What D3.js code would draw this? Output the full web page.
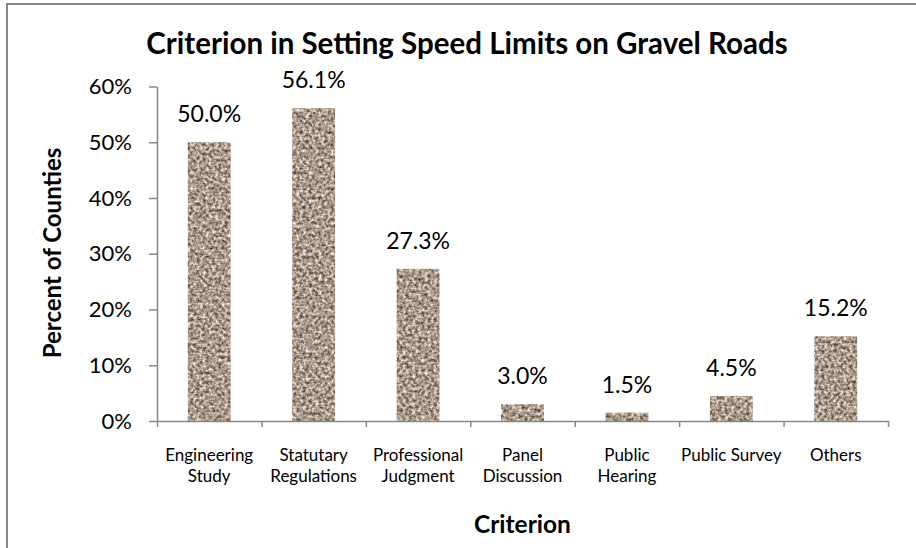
<!DOCTYPE html>
<html>
<head>
<meta charset="utf-8">
<title>Criterion in Setting Speed Limits on Gravel Roads</title>
<script src="https://cdn.jsdelivr.net/npm/d3@7"></script>
<style>
  body { margin: 0; background: #fff; }
  svg { display: block; font-family: Lato, "Open Sans", sans-serif; }
</style>
</head>
<body>
<div id="chart"></div>
<script>
// data
var categories = ["Engineering\nStudy", "Statutary\nRegulations", "Professional\nJudgment",
                  "Panel\nDiscussion", "Public\nHearing", "Public Survey", "Others"];
var percents = [50.0, 56.1, 27.3, 3.0, 1.5, 4.5, 15.2];
var yTicks = [0, 10, 20, 30, 40, 50, 60];

var width = 916, height = 548;
var plot = {left: 157, right: 888, top: 86.5, bottom: 421};

var svg = d3.select("#chart").append("svg")
    .attr("width", width)
    .attr("height", height);

// granite-ish fill for the bars
var defs = svg.append("defs");
var filt = defs.append("filter").attr("id", "granite")
    .attr("x", 0).attr("y", 0).attr("width", 1).attr("height", 1)
    .attr("color-interpolation-filters", "sRGB");
filt.append("feTurbulence")
    .attr("type", "fractalNoise")
    .attr("baseFrequency", 0.32)
    .attr("numOctaves", 3)
    .attr("seed", 7)
    .attr("result", "noise");
filt.append("feColorMatrix")
    .attr("in", "noise")
    .attr("type", "matrix")
    .attr("values", "1.1 0 0 0 0.11  1.1 0 0 0 0.05  1.1 0 0 0 -0.005  0 0 0 0 1")
    .attr("result", "tone");
filt.append("feComposite")
    .attr("in", "tone")
    .attr("in2", "SourceGraphic")
    .attr("operator", "in");

// outer frame (only top and left edges show in the picture)
svg.append("rect")
    .attr("x", 7).attr("y", 4)
    .attr("width", 1000).attr("height", 1000)
    .attr("fill", "none")
    .attr("stroke", "#888")
    .attr("stroke-width", 2);

var x = d3.scaleBand()
    .domain(categories)
    .range([plot.left, plot.right])
    .paddingInner(0.59)
    .paddingOuter(0.295);

var xEdges = d3.scaleLinear()
    .domain([0, categories.length])
    .range([plot.left, plot.right]);

var y = d3.scaleLinear()
    .domain([0, 60])
    .range([plot.bottom, plot.top]);

// bars
svg.selectAll(".bar")
    .data(percents)
  .enter().append("rect")
    .attr("class", "bar")
    .attr("x", function(d, i) { return x(categories[i]); })
    .attr("y", function(d) { return y(d); })
    .attr("width", x.bandwidth())
    .attr("height", function(d) { return y(0) - y(d); })
    .attr("fill", "#a89a8c")
    .attr("filter", "url(#granite)");

// value labels
svg.selectAll(".val")
    .data(percents)
  .enter().append("text")
    .attr("class", "val")
    .attr("x", function(d, i) { return x(categories[i]) + x.bandwidth() / 2; })
    .attr("y", function(d) { return y(d) - 20; })
    .attr("text-anchor", "middle")
    .style("font-size", "23px")
    .style("fill", "#000")
    .text(function(d) { return d.toFixed(1) + "%"; });

// y axis
var yAxis = svg.append("g")
    .attr("transform", "translate(" + plot.left + ",0)")
    .call(d3.axisLeft(y)
        .tickValues(yTicks)
        .tickFormat(function(d) { return d + "%"; })
        .tickSizeInner(8)
        .tickSizeOuter(0)
        .tickPadding(17));
yAxis.attr("font-family", null).attr("font-size", null);
yAxis.selectAll("text").style("font-size", "22px").style("fill", "#000");
yAxis.selectAll("line, path").attr("stroke", "#888").attr("stroke-width", 1.5);

// x axis: ticks at the category boundaries
var xAxis = svg.append("g")
    .attr("transform", "translate(0," + plot.bottom + ")")
    .call(d3.axisBottom(xEdges)
        .tickValues(d3.range(categories.length + 1))
        .tickFormat("")
        .tickSizeInner(6)
        .tickSizeOuter(0));
xAxis.selectAll("line, path").attr("stroke", "#888").attr("stroke-width", 1.5);

// category labels
svg.selectAll(".cat")
    .data(categories)
  .enter().append("text")
    .attr("class", "cat")
    .attr("text-anchor", "middle")
    .style("font-size", "17px")
    .style("fill", "#000")
    .each(function(d) {
        var cx = x(d) + x.bandwidth() / 2;
        d3.select(this).selectAll("tspan")
            .data(d.split("\n"))
          .enter().append("tspan")
            .attr("x", cx)
            .attr("y", function(line, j) { return 461 + j * 21; })
            .text(function(line) { return line; });
    });

// titles
svg.append("text")
    .attr("x", 467)
    .attr("y", 54)
    .attr("text-anchor", "middle")
    .style("font-size", "29.5px")
    .style("font-weight", "bold")
    .text("Criterion in Setting Speed Limits on Gravel Roads");

svg.append("text")
    .attr("x", (plot.left + plot.right) / 2)
    .attr("y", 533)
    .attr("text-anchor", "middle")
    .style("font-size", "24.5px")
    .style("font-weight", "bold")
    .text("Criterion");

svg.append("text")
    .attr("transform", "translate(61,253) rotate(-90)")
    .attr("text-anchor", "middle")
    .style("font-size", "24px")
    .style("font-weight", "bold")
    .text("Percent of Counties");
</script>
</body>
</html>
